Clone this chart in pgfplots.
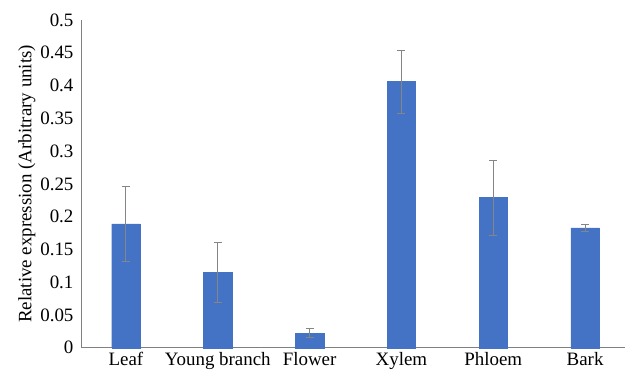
\documentclass[border=0pt]{standalone}
\usepackage{pgfplots}
\pgfplotsset{compat=1.18}
\usepackage{fontspec}
\setmainfont{Liberation Serif}
\definecolor{barblue}{HTML}{4472C4}
\definecolor{axgray}{HTML}{808080}
\definecolor{errgray}{HTML}{858585}
\begin{document}
\begin{tikzpicture}
\begin{axis}[
  scale only axis,
  width=544bp, height=328bp,
  xmin=-0.49, xmax=5.43,
  ymin=0, ymax=0.5,
  axis x line=bottom, axis y line=left,
  axis line style={axgray, line width=0.8pt, -},
  xtick={0,1,2,3,4,5},
  xticklabels={Leaf, Young branch, Flower, Xylem, Phloem, Bark},
  ytick={0,0.05,0.1,0.15,0.2,0.25,0.3,0.35,0.4,0.45,0.5},
  yticklabels={0,0.05,0.1,0.15,0.2,0.25,0.3,0.35,0.4,0.45,0.5},
  major tick length=0pt,
  tick style={draw=none},
  font=\fontsize{19}{22}\selectfont,
  ticklabel style={font=\fontsize{19}{22}\selectfont},
  yticklabel style={xshift=-4bp},
  xticklabel style={yshift=-1bp},
  ylabel={Relative expression (Arbitrary units)},
  ylabel style={font=\fontsize{19}{22}\selectfont, yshift=-2bp},
  clip=false,
]
\addplot[ybar, bar width=28.5bp, fill=barblue, draw=barblue,
  error bars/.cd, y dir=both, y explicit,
  error bar style={color=errgray, line width=1pt},
  error mark options={rotate=90, mark size=4bp, line width=1pt, color=errgray}]
  coordinates {
  (0,0.189) +- (0,0.057)
  (1,0.115) +- (0,0.046)
  (2,0.022) +- (0,0.007)
  (3,0.406) +- (0,0.048)
  (4,0.229) +- (0,0.057)
  (5,0.183) +- (0,0.005)
};
\end{axis}
\path ([xshift=-81bp,yshift=-31bp]current axis.south west) rectangle ([yshift=20bp]current axis.north east);
\end{tikzpicture}
\end{document}
